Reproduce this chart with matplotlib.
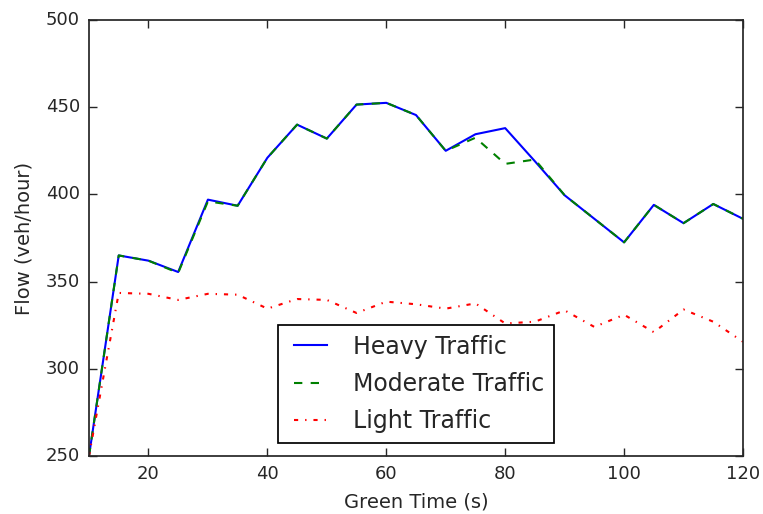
import matplotlib
matplotlib.use("Agg")
import matplotlib.pyplot as plt

plt.style.use('classic')
TXT = '#262626'
plt.rcParams.update({
    'text.color': TXT,
    'axes.labelcolor': TXT,
    'xtick.color': TXT,
    'ytick.color': TXT,
    'axes.edgecolor': TXT,
})

green_time = [10, 15, 20, 25, 30, 35, 40, 45, 50, 55, 60, 65, 70, 75, 80, 85, 90, 95, 100, 105, 110, 115, 120]
heavy = [250, 365, 362, 355.5, 397, 393.5, 421, 440, 432, 451.5, 452.5, 445.5, 425, 434.5, 438, 419, 399.5, 386, 372.5, 394, 383.5, 394.5, 386]
moderate = [250, 365, 362, 355, 396, 393.5, 421, 440, 432, 451.5, 452.5, 445.5, 425, 432.5, 417.5, 420, 399.5, 386, 372.5, 394, 383.5, 394.5, 386]
light = [250, 343.5, 343, 339.5, 343, 342.5, 334.5, 340, 339.5, 332, 338.5, 337, 334.5, 337.5, 326, 327, 333.5, 324, 331, 321, 334, 327, 315.5]

fig = plt.figure(figsize=(7.63, 5.14), dpi=100, facecolor='white')
ax = fig.add_axes([89/763, 1-456/514, (743-89)/763, (456-20)/514])
ax.set_facecolor('white')

ax.plot(green_time, heavy, color='blue', linestyle='-', linewidth=1.5, label='Heavy Traffic')
ax.plot(green_time, moderate, color='green', linestyle='--', linewidth=1.5, label='Moderate Traffic')
ax.plot(green_time, light, color='red', linestyle='-.', linewidth=1.5, label='Light Traffic')

ax.set_xlim(10, 120)
ax.set_ylim(250, 500)
ax.set_xticks([20, 40, 60, 80, 100, 120])
ax.set_yticks([250, 300, 350, 400, 450, 500])
ax.tick_params(labelsize=13, length=6, width=1, pad=6.5)
for s in ax.spines.values():
    s.set_linewidth(1.25)
ax.set_xlabel('Green Time (s)', fontsize=14, labelpad=7)
ax.set_ylabel('Flow (veh/hour)', fontsize=14, labelpad=9)

leg = ax.legend(loc='lower center', fontsize=17, labelspacing=0.57, bbox_to_anchor=(0.5, 0.003))
leg.get_frame().set_edgecolor('black')
leg.get_frame().set_linewidth(1.25)

fig.savefig('out.png', dpi=100, facecolor='white')
